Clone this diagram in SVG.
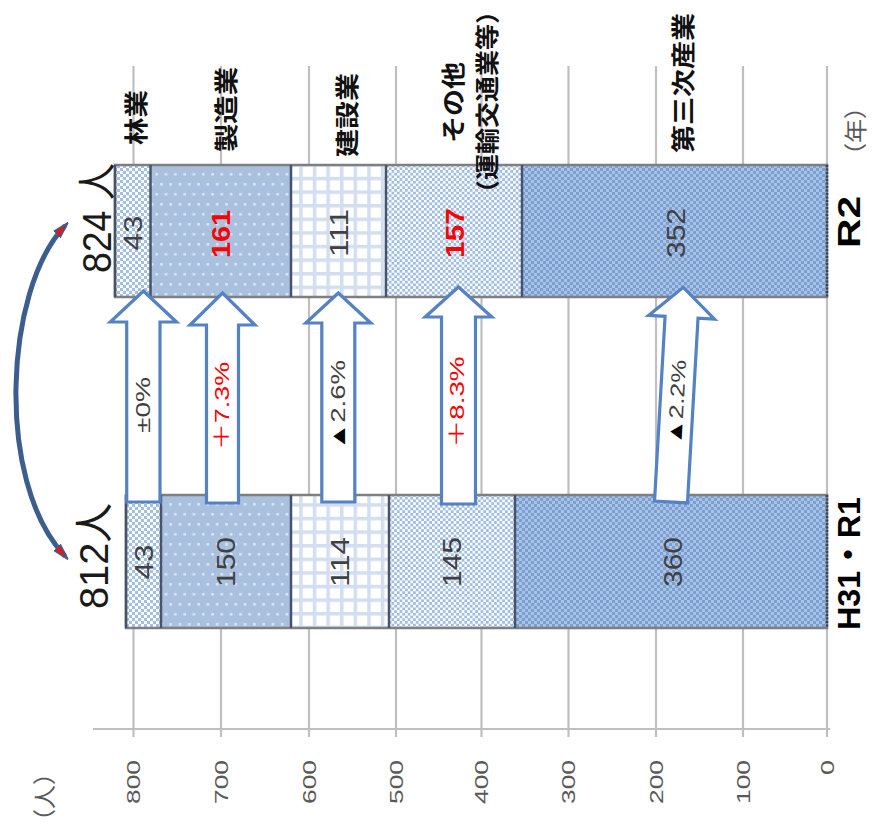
<svg xmlns="http://www.w3.org/2000/svg" width="881" height="834" viewBox="0 0 881 834">
<style>
.grid{stroke:#bfbfbf;stroke-width:2.2}
.val{font-family:"Liberation Sans","DejaVu Sans",sans-serif;font-size:26px;fill:#404040;text-anchor:middle}
.red{fill:#ff0000;font-weight:bold}
.tick{font-family:"Liberation Sans",sans-serif;font-size:19px;fill:#595959;text-anchor:end}
.cat{font-family:"Noto Sans CJK JP",sans-serif;font-size:24px;font-weight:bold;fill:#111;text-anchor:middle}
.unit{font-family:"Noto Sans CJK JP",sans-serif;font-size:23px;fill:#595959;text-anchor:middle}
.big{font-family:"Liberation Sans","Noto Sans CJK JP",sans-serif;font-size:40px;fill:#1a1a1a;text-anchor:middle}
.year{font-family:"Liberation Sans","Noto Sans CJK JP",sans-serif;font-size:32px;font-weight:bold;fill:#000;text-anchor:middle}
.arr{fill:#fff;stroke:#5482c2;stroke-width:3.2;stroke-linejoin:miter}
.alab{font-family:"Liberation Sans","DejaVu Sans","Noto Sans CJK JP",sans-serif;font-size:20px;fill:#404040;text-anchor:middle}
.sep{stroke:#46536a;stroke-width:2.5}
.edge{fill:none;stroke:#7f7f7f;stroke-width:2.5}
</style>
<defs>
<pattern id="pRin" width="6" height="6" patternUnits="userSpaceOnUse"><rect width="6" height="6" fill="#fff"/><rect width="3" height="3" fill="#a3bfe4"/><rect x="3" y="3" width="3" height="3" fill="#a3bfe4"/></pattern>
<pattern id="pSei" width="9.3" height="20" patternUnits="userSpaceOnUse"><rect width="9.3" height="20" fill="#a9c0df"/><rect x="2" y="3" width="2.6" height="2.6" fill="#dbe5f3"/><rect x="6.65" y="13" width="2.6" height="2.6" fill="#dbe5f3"/></pattern>
<pattern id="pKen" width="13.6" height="13.6" patternUnits="userSpaceOnUse"><rect width="13.6" height="13.6" fill="#fff"/><rect width="3.5" height="13.6" fill="#d3dff0"/><rect width="13.6" height="3.5" fill="#d3dff0"/></pattern>
<pattern id="pOth" width="5.4" height="5.4" patternUnits="userSpaceOnUse"><rect width="5.4" height="5.4" fill="#fff"/><rect width="2.7" height="2.7" fill="#9ebbe2"/><rect x="2.7" y="2.7" width="2.7" height="2.7" fill="#9ebbe2"/></pattern>
<pattern id="pSan" width="6" height="6" patternUnits="userSpaceOnUse"><rect width="6" height="6" fill="#a9c3e6"/><rect width="3" height="3" fill="#7c9fd2"/><rect x="3" y="3" width="3" height="3" fill="#7c9fd2"/></pattern>
<marker id="ah" viewBox="0 0 14 10" refX="9" refY="5" markerWidth="3.2" markerHeight="2.3" orient="auto-start-reverse" markerUnits="strokeWidth"><path d="M0,1.2 L14,5 L0,8.8 z" fill="#e01818" stroke="#3b5e8c" stroke-width="1.4"/></marker>
</defs>
<rect width="881" height="834" fill="#fff"/>

<g id="axis">
<line class="grid" x1="93" y1="729" x2="830" y2="729"/>
<line class="grid" x1="133.5" y1="66" x2="133.5" y2="737"/>
<line class="grid" x1="221" y1="66" x2="221" y2="737"/>
<line class="grid" x1="309" y1="66" x2="309" y2="737"/>
<line class="grid" x1="396" y1="66" x2="396" y2="737"/>
<line class="grid" x1="481.5" y1="66" x2="481.5" y2="737"/>
<line class="grid" x1="568.5" y1="66" x2="568.5" y2="737"/>
<line class="grid" x1="656" y1="66" x2="656" y2="737"/>
<line class="grid" x1="743" y1="66" x2="743" y2="737"/>
<line class="grid" x1="827" y1="66" x2="827" y2="737"/>
<text class="tick" transform="translate(133.5,760) rotate(-90)" dy="0.35em" textLength="44" lengthAdjust="spacingAndGlyphs">800</text>
<text class="tick" transform="translate(221,760) rotate(-90)" dy="0.35em" textLength="44" lengthAdjust="spacingAndGlyphs">700</text>
<text class="tick" transform="translate(309,760) rotate(-90)" dy="0.35em" textLength="44" lengthAdjust="spacingAndGlyphs">600</text>
<text class="tick" transform="translate(396,760) rotate(-90)" dy="0.35em" textLength="44" lengthAdjust="spacingAndGlyphs">500</text>
<text class="tick" transform="translate(481.5,760) rotate(-90)" dy="0.35em" textLength="44" lengthAdjust="spacingAndGlyphs">400</text>
<text class="tick" transform="translate(568.5,760) rotate(-90)" dy="0.35em" textLength="44" lengthAdjust="spacingAndGlyphs">300</text>
<text class="tick" transform="translate(656,760) rotate(-90)" dy="0.35em" textLength="44" lengthAdjust="spacingAndGlyphs">200</text>
<text class="tick" transform="translate(743,760) rotate(-90)" dy="0.35em" textLength="44" lengthAdjust="spacingAndGlyphs">100</text>
<text class="tick" transform="translate(827,760) rotate(-90)" dy="0.35em" textLength="15" lengthAdjust="spacingAndGlyphs">0</text>
<text class="unit" transform="translate(44,797) rotate(-90)" dy="0.38em" textLength="72" lengthAdjust="spacingAndGlyphs">（人）</text>
<text class="unit" transform="translate(855,131) rotate(-90)" dy="0.38em" textLength="72" lengthAdjust="spacingAndGlyphs">（年）</text>
</g>

<g id="bar-r2">
<g id="r2-rin"><rect x="115" y="165" width="35.5" height="132" fill="url(#pRin)"/><text class="val" transform="translate(133,233) rotate(-90)" dy="0.35em" textLength="35" lengthAdjust="spacingAndGlyphs">43</text></g>
<g id="r2-sei"><rect x="150.5" y="165" width="140.5" height="132" fill="url(#pSei)"/><text class="val red" transform="translate(221,234) rotate(-90)" dy="0.35em" textLength="48" lengthAdjust="spacingAndGlyphs">161</text></g>
<g id="r2-ken"><rect x="291" y="165" width="95" height="132" fill="url(#pKen)"/><text class="val" transform="translate(339,233) rotate(-90)" dy="0.35em" textLength="48" lengthAdjust="spacingAndGlyphs">111</text></g>
<g id="r2-oth"><rect x="386" y="165" width="136" height="132" fill="url(#pOth)"/><text class="val red" transform="translate(455,233) rotate(-90)" dy="0.35em" textLength="50" lengthAdjust="spacingAndGlyphs">157</text></g>
<g id="r2-san"><rect x="522" y="165" width="305" height="132" fill="url(#pSan)"/><text class="val" transform="translate(676,233) rotate(-90)" dy="0.35em" textLength="50" lengthAdjust="spacingAndGlyphs">352</text></g>
<rect class="edge" x="115" y="165" width="712" height="132"/>
<line class="sep" x1="115" y1="165" x2="115" y2="297"/>
<line class="sep" x1="150.5" y1="165" x2="150.5" y2="297"/>
<line class="sep" x1="291" y1="165" x2="291" y2="297"/>
<line class="sep" x1="386" y1="165" x2="386" y2="297"/>
<line class="sep" x1="522" y1="165" x2="522" y2="297"/>
<line x1="827" y1="165" x2="827" y2="297" stroke="#2f4468" stroke-width="2.5" stroke-dasharray="2 1.5"/>
</g>

<g id="bar-h31">
<g id="h31-rin"><rect x="126" y="495" width="35" height="133" fill="url(#pRin)"/><text class="val" transform="translate(143.5,562) rotate(-90)" dy="0.35em" textLength="35" lengthAdjust="spacingAndGlyphs">43</text></g>
<g id="h31-sei"><rect x="161" y="495" width="130" height="133" fill="url(#pSei)"/><text class="val" transform="translate(226,562) rotate(-90)" dy="0.35em" textLength="50" lengthAdjust="spacingAndGlyphs">150</text></g>
<g id="h31-ken"><rect x="291" y="495" width="98" height="133" fill="url(#pKen)"/><text class="val" transform="translate(340,562) rotate(-90)" dy="0.35em" textLength="50" lengthAdjust="spacingAndGlyphs">114</text></g>
<g id="h31-oth"><rect x="389" y="495" width="126" height="133" fill="url(#pOth)"/><text class="val" transform="translate(452,562) rotate(-90)" dy="0.35em" textLength="50" lengthAdjust="spacingAndGlyphs">145</text></g>
<g id="h31-san"><rect x="515" y="495" width="312" height="133" fill="url(#pSan)"/><text class="val" transform="translate(673,562) rotate(-90)" dy="0.35em" textLength="50" lengthAdjust="spacingAndGlyphs">360</text></g>
<rect class="edge" x="126" y="495" width="701" height="133"/>
<line class="sep" x1="126" y1="495" x2="126" y2="628"/>
<line class="sep" x1="161" y1="495" x2="161" y2="628"/>
<line class="sep" x1="291" y1="495" x2="291" y2="628"/>
<line class="sep" x1="389" y1="495" x2="389" y2="628"/>
<line class="sep" x1="515" y1="495" x2="515" y2="628"/>
<line x1="827" y1="495" x2="827" y2="628" stroke="#2f4468" stroke-width="2.5" stroke-dasharray="2 1.5"/>
</g>

<g id="labels">
<text class="cat" transform="translate(135.5,117.5) rotate(-90)" dy="0.38em" textLength="55" lengthAdjust="spacingAndGlyphs">林業</text>
<text class="cat" transform="translate(226,109.5) rotate(-90)" dy="0.38em" textLength="85" lengthAdjust="spacingAndGlyphs">製造業</text>
<text class="cat" transform="translate(346.5,115) rotate(-90)" dy="0.38em" textLength="84" lengthAdjust="spacingAndGlyphs">建設業</text>
<text class="cat" transform="translate(452.5,102.5) rotate(-90)" dy="0.38em" textLength="81" lengthAdjust="spacingAndGlyphs">その他</text>
<text class="cat" transform="translate(487,102) rotate(-90)" dy="0.38em" textLength="208" lengthAdjust="spacingAndGlyphs">（運輸交通業等）</text>
<text class="cat" transform="translate(682.5,83) rotate(-90)" dy="0.38em" textLength="140" lengthAdjust="spacingAndGlyphs">第三次産業</text>
<text class="year" transform="translate(849,222) rotate(-90)" dy="0.35em" textLength="52" lengthAdjust="spacingAndGlyphs">R2</text>
<text class="year" transform="translate(849,563.5) rotate(-90)" dy="0.35em" textLength="133" lengthAdjust="spacingAndGlyphs">H31・R1</text>
<text class="big" transform="translate(97,218) rotate(-90)" dy="0.35em" textLength="110" lengthAdjust="spacingAndGlyphs">824 人</text>
<text class="big" transform="translate(94,556) rotate(-90)" dy="0.35em" textLength="106" lengthAdjust="spacingAndGlyphs">812人</text>
</g>

<g id="arrow-rin"><polygon class="arr" points="143.4,291 176.5,322 160,322 160,502 126.7,502 126.7,322 110.3,322"/><text class="alab" transform="translate(143.4,405) rotate(-90)" dy="0.35em" textLength="56" lengthAdjust="spacingAndGlyphs">±0%</text></g>
<g id="arrow-sei"><polygon class="arr" points="222.5,293 255,325 238.5,325 238.5,503 206.5,503 206.5,325 190,325"/><text class="alab" transform="translate(221.5,406) rotate(-90)" dy="0.35em" textLength="88" lengthAdjust="spacingAndGlyphs" style="fill:#ff0000">＋7.3%</text></g>
<g id="arrow-ken"><polygon class="arr" points="338.3,293 370.8,323 354.8,323 354.8,502 321.8,502 321.8,323 305.8,323"/><text class="alab" transform="translate(338,405) rotate(-90)" dy="0.35em" textLength="90" lengthAdjust="spacingAndGlyphs"><tspan style="fill:#000">▲</tspan>2.6%</text></g>
<g id="arrow-oth"><polygon class="arr" points="458.5,287 491.8,317 475.5,317 475.5,504 441.5,504 441.5,317 425.2,317"/><text class="alab" transform="translate(457,402) rotate(-90)" dy="0.35em" textLength="91" lengthAdjust="spacingAndGlyphs" style="fill:#ff0000">＋8.3%</text></g>
<g id="arrow-san" transform="translate(671,502) rotate(3.27)"><polygon class="arr" points="0,-215 33,-185 16.5,-185 16.5,0 -16.5,0 -16.5,-185 -33,-185"/><text class="alab" transform="translate(0,-100) rotate(-90)" dy="0.35em" textLength="85" lengthAdjust="spacingAndGlyphs"><tspan style="fill:#000">▲</tspan>2.2%</text></g>

<g id="connectors">
<path d="M64,227 C5,290 -5,480 64,555" fill="none" stroke="#3b5e8c" stroke-width="5" stroke-linecap="round" marker-start="url(#ah)" marker-end="url(#ah)"/>
</g>
</svg>
